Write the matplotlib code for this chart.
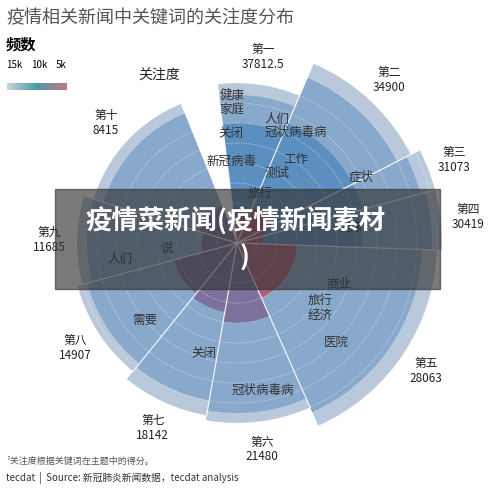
import numpy as np
import matplotlib
matplotlib.use("Agg")
import matplotlib.pyplot as plt
from matplotlib.colors import LinearSegmentedColormap

plt.rcParams['font.family'] = ['Noto Sans CJK SC', 'DejaVu Sans']

topics = ["第一", "第二", "第三", "第四", "第五", "第六", "第七", "第八", "第九", "第十"]
freq = [37812.5, 34900, 31073, 30419, 28063, 21480, 18142, 14907, 11685, 8415]
span = [30, 40, 12, 17, 64, 34, 29, 36, 32, 51]          # degrees
light_r = [160, 195, 205, 205, 200, 180, 175, 165, 160, 150]
blue_r = [148, 180, 190, 195, 185, 170, 160, 155, 150, 140]
deep_r = [120, 130, 130, 125, 0, 0, 0, 0, 0, 0]
inner_r = [30, 40, 30, 25, 60, 80, 70, 65, 35, 40]
inner_kind = ["red", "red", "red", "red", "red", "purple", "purple", "purple", "purple", "purple"]
keywords = [("健康\n家庭", -2, 140), ("关闭", -3, 110), ("新冠病毒", -4, 82), ("人们", 18, 130), ("冠状病毒病", 28, 125),
            ("工作", 35, 102), ("测试", 30, 80), ("旅行", 25, 55), ("症状", 62, 140), ("健康", 82, 115),
            ("商业", 112, 110), ("旅行\n经济", 128, 105), ("医院", 135, 140), ("冠状病毒病", 170, 150), ("关闭", 197, 115),
            ("需要", 230, 120), ("人们", 262, 118), ("说", 266, 70)]

fig = plt.figure(figsize=(5, 4.92), dpi=100)
ax = fig.add_axes([0.054, 0.079, 0.84, 0.854], polar=True)
ax.set_theta_zero_location('N')
ax.set_theta_direction(-1)
ax.set_ylim(0, 210)
ax.axis('off')

starts = np.cumsum([-7] + span[:-1])
cols = {"light": "#b9c8db", "blue": "#88a9cb", "deep": "#5b8fc0", "red": "#b85470", "purple": "#7d6a98"}
for i in range(len(topics)):
    th = np.deg2rad(starts[i] + span[i] / 2)
    w = np.deg2rad(span[i])
    ax.bar(th, light_r[i], width=w, color=cols["light"], edgecolor='none')
    ax.bar(th, blue_r[i], width=w, color=cols["blue"], edgecolor='none')
    if deep_r[i]:
        ax.bar(th, deep_r[i], width=w, color=cols["deep"], edgecolor='none')
    ax.bar(th, inner_r[i], width=w, color=cols[inner_kind[i]], edgecolor='none', alpha=0.9)
    lr = light_r[i] + 28
    ax.text(th, lr, f"{topics[i]}\n{freq[i]:g}", ha='center', va='center', fontsize=8.5, color='#222')
    ax.plot([np.deg2rad(starts[i])] * 2, [0, light_r[i]], color='white', lw=0.9, alpha=0.85)

t = np.linspace(0, 2 * np.pi, 400)
for r in range(20, 220, 20):
    ax.plot(t, np.full_like(t, r), color='white', lw=0.6, ls=':', alpha=0.7)

for word, a, r in keywords:
    ax.text(np.deg2rad(a), r, word, ha='center', va='center', fontsize=9, color='#333')
ax.text(np.deg2rad(-25), 185, "关注度", ha='center', va='center', fontsize=10, color='#222')

fig.text(0.012, 0.962, "疫情相关新闻中关键词的关注度分布", fontsize=13, color='#555', va='center')
fig.text(0.012, 0.91, "频数", fontsize=11, fontweight='bold', va='center')
for x, s in [(0.012, "15k"), (0.062, "10k"), (0.112, "5k")]:
    fig.text(x, 0.868, s, fontsize=7, va='center')
cmap = LinearSegmentedColormap.from_list("f", ["#c6d5da", "#4a9aa6", "#c37885"])
cax = fig.add_axes([0.014, 0.818, 0.12, 0.014])
cax.imshow(np.linspace(0, 1, 100)[None, :], aspect='auto', cmap=cmap)
cax.axis('off')

fig.text(0.012, 0.062, "¹关注度根据关键词在主题中的得分。", fontsize=6.5, color='#555', va='center')
fig.text(0.012, 0.028, "tecdat  |  Source: 新冠肺炎新闻数据，tecdat analysis", fontsize=7, color='#333', va='center')

fig.patches.append(plt.Rectangle((0.11, 0.412), 0.77, 0.203, transform=fig.transFigure,
                                 color='#333', alpha=0.65, zorder=5))
fig.text(0.47, 0.55, "疫情菜新闻(疫情新闻素材", fontsize=19, fontweight='bold', color='white',
         ha='center', va='center', zorder=6)
fig.text(0.49, 0.475, ")", fontsize=19, fontweight='bold', color='white', ha='center', va='center', zorder=6)

fig.savefig("out.png", dpi=100, facecolor='white')
